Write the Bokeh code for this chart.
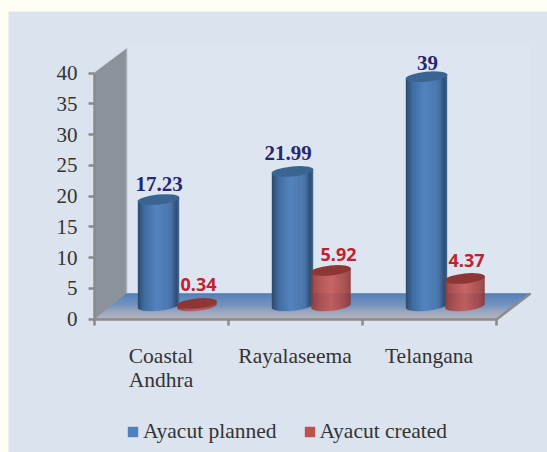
import math
from bokeh.plotting import figure
from bokeh.embed import file_html
from bokeh.resources import INLINE
from bokeh.core.properties import value
from bokeh.models import FixedTicker, Legend, LegendItem, ColumnDataSource

categories = ["Coastal\nAndhra", "Rayalaseema", "Telangana"]
planned_labels = ["17.23", "21.99", "39"]
created_labels = ["0.34", "5.92", "4.37"]
# heights as drawn in the picture (the tallest column stops below its label's value)
planned_drawn = [17.23, 21.8, 37.2]
created_drawn = [0.34, 5.7, 4.4]
y_ticks = [0, 5, 10, 15, 20, 25, 30, 35, 40]
series_names = ["Ayacut planned", "Ayacut created"]

CREAM, PANEL, BACK = "#FFFEF2", "#DBE3EF", "#DDE5F1"
W, H = 547, 452
X0, XS, Y0, YS = 94.0, 134.0, 318.5, 6.15


def X(px):
    return (px - X0) / XS


def Y(py):
    return (Y0 - py) / YS


def mix(stops, f):
    for (a, ca), (b, cb) in zip(stops, stops[1:]):
        if f <= b:
            k = (f - a) / (b - a) if b > a else 0
            rgb = [round(int(ca[i:i + 2], 16) * (1 - k) + int(cb[i:i + 2], 16) * k) for i in (1, 3, 5)]
            return "#%02x%02x%02x" % tuple(rgb)
    return stops[-1][1]


p = figure(width=W, height=H, output_backend="svg", toolbar_location=None,
           x_range=(X(0), X(W)), y_range=(Y(H), Y(0)),
           min_border=0, min_border_left=0, min_border_right=0, min_border_top=0, min_border_bottom=0,
           background_fill_color=CREAM, border_fill_color=CREAM, outline_line_color=None)
p.grid.visible = False

# panel and back wall
p.quad(left=X(8), right=X(547), bottom=Y(452), top=Y(11), fill_color=PANEL, line_color=None)
p.quad(left=X(126), right=X(530), bottom=Y(293), top=Y(46), fill_color=BACK, line_color=None)

# left wall
p.patch([X(94), X(126), X(126), X(94)], [Y(72), Y(48), Y(293), Y(319)], fill_color="#8B9299", line_color=None)
p.line([X(126), X(126)], [Y(48), Y(293)], line_color="#A6AFB8", line_width=1.5)

# floor
floor_stops = [(0, "#4878B6"), (0.45, "#6E8DBB"), (0.8, "#A3A8BC"), (1, "#B0AEB8")]
rows = 26
fx, fy, fc = [], [], []
for i in range(rows):
    a, b = i / rows, (i + 1) / rows
    lt, lb = 126 - 32 * a, 126 - 32 * b
    rt, rb = 530 - 34 * a, 530 - 34 * b
    yt, yb = 293 + 26 * a, 293 + 26 * b
    fx.append([X(lt), X(rt), X(rb), X(lb)])
    fy.append([Y(yt), Y(yt), Y(yb), Y(yb)])
    fc.append(mix(floor_stops, (a + b) / 2))
p.patches(fx, fy, fill_color=fc, line_color=fc, line_width=0.5)
p.line([X(496), X(530)], [Y(319), Y(293)], line_color="#8C8C8C", line_width=2.5)

BLUE = [(0, "#2C4A6E"), (0.15, "#3F6B9F"), (0.45, "#5484C0"), (0.8, "#4A76AB"), (0.94, "#2E4E75"), (1, "#3F6690")]
RED = [(0, "#8D3A39"), (0.2, "#AB4A48"), (0.5, "#C65A58"), (0.85, "#A64644"), (1, "#8C3A38")]
BASE_PX, DEPTH, TILT = 305.0, 5.0, 2.0


def cylinder(cx_px, half, height, stops, top_color):
    n = int(half * 2)
    l, r, b, t, c = [], [], [], [], []
    base = Y(BASE_PX)
    for i in range(n):
        u = (i + 0.5) / n
        s = 2 * u - 1
        x0 = cx_px - half + i * 2 * half / n
        x1 = x0 + 2 * half / n
        l.append(X(x0))
        r.append(X(x1))
        b.append(base - (DEPTH * math.sqrt(1 - s * s) - TILT * s) / YS)
        t.append(base + height + TILT * s / YS)
        c.append(mix(stops, u))
    src = ColumnDataSource(dict(l=l, r=r, b=b, t=t, c=c))
    p.quad(left="l", right="r", bottom="b", top="t", fill_color="c", line_color="c", line_width=0.4, source=src)
    p.ellipse(x=[X(cx_px)], y=[base + height], width=[2 * half + 1], height=[2 * DEPTH],
              angle=[math.atan2(TILT, half)], width_units="screen", height_units="screen",
              fill_color=top_color, line_color=None)


for i in range(3):
    origin = X0 + XS * i
    cylinder(origin + 64, 20.5, planned_drawn[i], BLUE, "#3A6592")
    cylinder(origin + 102.5, 19.5, created_drawn[i], RED, "#8E3634")

# data labels
p.text(x=[X(v) for v in (158.5, 287.5, 427)], y=[Y(v) for v in (183.5, 152.5, 62)], text=planned_labels,
       text_font=value("Liberation Serif"), text_font_style="bold", text_font_size="21px",
       text_color="#27276F", text_align="center", text_baseline="middle")
p.text(x=[X(v) for v in (198, 338, 466)], y=[Y(v) for v in (284, 254, 260)], text=created_labels,
       text_font=value("Noto Sans"), text_font_style="bold", text_font_size="18px",
       text_color="#C0202F", text_align="center", text_baseline="middle")

# category labels
p.text(x=[X(v) for v in (160.5, 294.5, 428.5)], y=[Y(v) for v in (343, 343, 343)], text=categories,
       text_font=value("Liberation Serif"), text_font_size="21.5px", text_color="#333333",
       text_align="center", text_baseline="top", text_line_height=1.0)

# axes
ya = p.yaxis[0]
ya.fixed_location = 0
ya.bounds = (0, 40)
ya.ticker = FixedTicker(ticks=y_ticks)
ya.axis_line_color = "#8A8A8A"
ya.axis_line_width = 2.5
ya.major_tick_line_color = "#8A8A8A"
ya.major_tick_line_width = 2.5
ya.major_tick_out = 6
ya.major_tick_in = 0
ya.minor_tick_line_color = None
ya.major_label_standoff = 11
ya.major_label_text_font = "Liberation Serif"
ya.major_label_text_font_size = "21px"
ya.major_label_text_color = "#333333"

xa = p.xaxis[0]
xa.fixed_location = 0
xa.bounds = (0, 3)
xa.ticker = FixedTicker(ticks=[], minor_ticks=[0, 1, 2, 3])
xa.axis_line_color = "#8A8A8A"
xa.axis_line_width = 2.5
xa.major_tick_line_color = None
xa.minor_tick_line_color = "#8A8A8A"
xa.minor_tick_line_width = 2.5
xa.minor_tick_out = 6
xa.minor_tick_in = 0

# legend
r1 = p.quad(left=[-9], right=[-8.9], bottom=[-9], top=[-8.9], fill_color="#4F81BD", line_color=None)
r2 = p.quad(left=[-9], right=[-8.9], bottom=[-9], top=[-8.9], fill_color="#C0504D", line_color=None)
legend = Legend(items=[LegendItem(label=series_names[0], renderers=[r1]),
                       LegendItem(label=series_names[1], renderers=[r2])],
                orientation="horizontal", location=(126, 8), padding=0, margin=0, spacing=26,
                glyph_width=13, glyph_height=13, label_standoff=4, label_height=14,
                label_text_font="Liberation Serif", label_text_font_size="21.5px", label_text_color="#333333",
                background_fill_alpha=0, border_line_color=None)
p.add_layout(legend, "center")

open("out.html", "w").write(file_html(p, INLINE))
